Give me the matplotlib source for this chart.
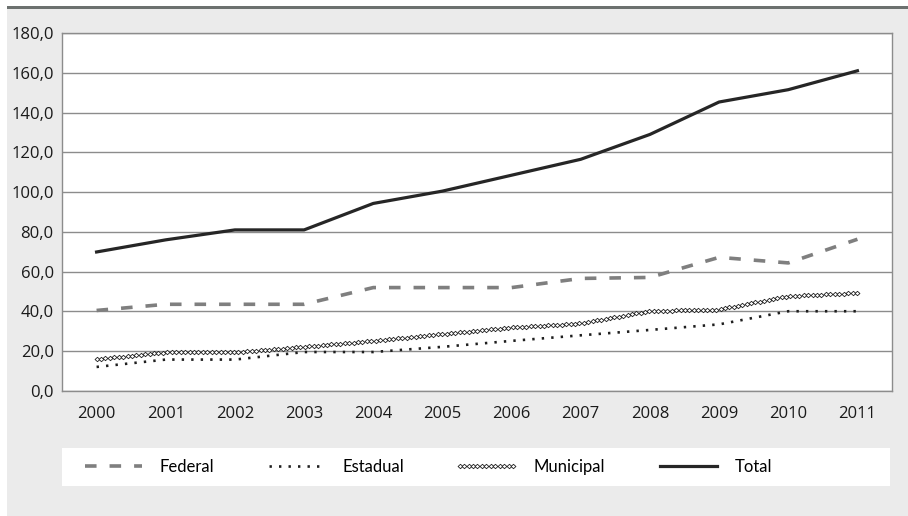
import numpy as np
import matplotlib
matplotlib.use('Agg')
import matplotlib.pyplot as plt
from matplotlib import patheffects
from matplotlib.path import Path
from matplotlib.transforms import Affine2D
from matplotlib.patches import Rectangle
from matplotlib.ticker import FuncFormatter

years = ['2000', '2001', '2002', '2003', '2004', '2005',
         '2006', '2007', '2008', '2009', '2010', '2011']
federal = [40.5, 43.6, 43.6, 43.6, 52.0, 52.0, 52.0, 56.6, 57.1, 67.2, 64.4, 76.3]
estadual = [12.1, 15.8, 15.8, 19.6, 19.6, 22.2, 25.2, 28.0, 30.7, 33.5, 40.1, 40.1]
municipal = [16.0, 19.5, 19.5, 22.2, 25.2, 28.7, 31.9, 34.0, 40.2, 41.0, 47.7, 49.3]
total = [69.9, 76.0, 81.0, 81.0, 94.3, 100.5, 108.5, 116.5, 129.0, 145.3, 151.5, 161.0]


class DiamondTrail(patheffects.AbstractPathEffect):
    """Draws a row of small open diamonds along the line instead of a stroke."""

    def __init__(self, step=3.2, size=3.5, lw=0.6):
        super().__init__()
        self.step = step
        self.size = size
        self.lw = lw

    def draw_path(self, renderer, gc, tpath, affine, rgbFace=None):
        verts = affine.transform(tpath.vertices)
        seg = np.diff(verts, axis=0)
        cum = np.concatenate([[0], np.cumsum(np.hypot(seg[:, 0], seg[:, 1]))])
        step = renderer.points_to_pixels(self.step)
        d = np.arange(0, cum[-1] + 1e-6, step)
        pts = Path(np.column_stack([np.interp(d, cum, verts[:, 0]),
                                    np.interp(d, cum, verts[:, 1])]))
        gc0 = renderer.new_gc()
        gc0.copy_properties(gc)
        gc0.set_linewidth(self.lw)
        gc0.set_dashes(0, None)
        half = renderer.points_to_pixels(self.size) / 2
        mtrans = Affine2D().scale(half, half * 0.9)
        renderer.draw_markers(gc0, Path.unit_regular_polygon(4), mtrans,
                              pts, Affine2D(), (1, 1, 1, 1))
        gc0.restore()


plt.rcParams['font.family'] = ['Open Sans', 'DejaVu Sans']

fig = plt.figure(figsize=(9.08, 5.16), dpi=100, facecolor='white')
W, H = 908, 516

# grey panel and dark strip along the top
fig.patches.append(Rectangle((7 / W, 0), 1 - 7 / W, 1 - 9 / H, transform=fig.transFigure,
                             facecolor='#ebebeb', edgecolor='none', zorder=-10))
fig.patches.append(Rectangle((7 / W, 1 - 9 / H), 1 - 7 / W, 3 / H, transform=fig.transFigure,
                             facecolor='#6c716f', edgecolor='none', zorder=-10))
# white strip behind the legend
fig.patches.append(Rectangle((62 / W, 1 - 486 / H), (890 - 62) / W, 38 / H,
                             transform=fig.transFigure, facecolor='white',
                             edgecolor='none', zorder=-5))

ax = fig.add_axes([62 / W, 1 - 391 / H, (892 - 62) / W, (391 - 33) / H])
ax.set_facecolor('white')
x = np.arange(len(years))

ax.plot(x, federal, color='#7f7f7f', lw=2.6, dashes=(3.2, 3.6), label='Federal')
ax.plot(x, estadual, color='#1e1e1e', lw=1.9, dashes=(0.9, 2.7), label='Estadual')
ax.plot(x, municipal, color='#1e1e1e', lw=1.0, label='Municipal',
        path_effects=[DiamondTrail()])
ax.plot(x, total, color='#262626', lw=2.3, label='Total')

ax.set_xlim(-0.5, len(years) - 0.5)
ax.set_ylim(0, 180)
ax.set_yticks(np.arange(0, 181, 20))
ax.yaxis.set_major_formatter(FuncFormatter(lambda v, p: f'{v:.1f}'.replace('.', ',')))
ax.set_xticks(x)
ax.set_xticklabels(years)
ax.grid(axis='y', color='#8c8c8c', lw=1)
ax.set_axisbelow(True)
for s in ax.spines.values():
    s.set_color('#8c8c8c')
    s.set_linewidth(1)
ax.tick_params(axis='both', length=0, labelsize=12, colors='#1a1a1a')
ax.tick_params(axis='x', pad=11)
ax.tick_params(axis='y', pad=6)

fig.legend(loc='center left', bbox_to_anchor=(85 / W, 1 - 467 / H), ncol=4,
           frameon=False, handlelength=3.4, handletextpad=1.05, columnspacing=3.3,
           borderpad=0, borderaxespad=0,
           prop={'family': ['Lato', 'DejaVu Sans'], 'size': 12})

fig.savefig('out.png', dpi=100, facecolor=fig.get_facecolor())
